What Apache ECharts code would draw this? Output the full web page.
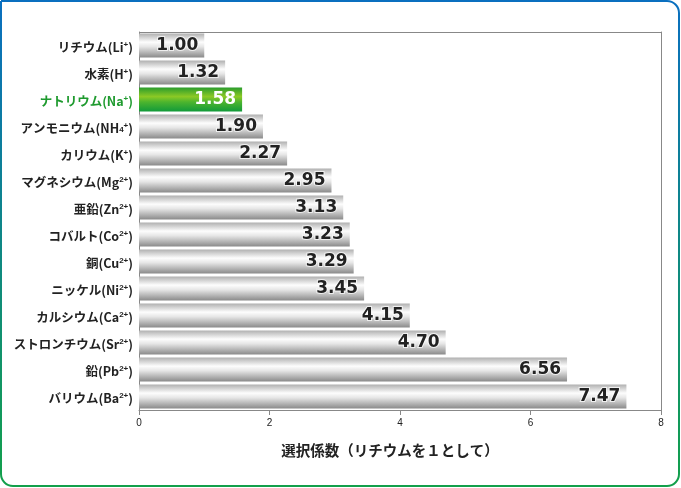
<!DOCTYPE html>
<html><head><meta charset="utf-8">
<script src="https://cdn.jsdelivr.net/npm/echarts@6/dist/echarts.min.js"></script>
<style>html,body{margin:0;padding:0;background:#fff}#c{width:681px;height:488px}</style>
</head><body><div id="c"></div>
<script>
var names = ['リチウム','水素','ナトリウム','アンモニウム','カリウム','マグネシウム','亜鉛','コバルト','銅','ニッケル','カルシウム','ストロンチウム','鉛','バリウム'];
var ions = ['Li','H','Na','NH','K','Mg','Zn','Co','Cu','Ni','Ca','Sr','Pb','Ba'];
var subs = ['','','','4','','','','','','','','','',''];
var charges = ['+','+','+','+','+','2+','2+','2+','2+','2+','2+','2+','2+','2+'];
var values = [1.00,1.32,1.58,1.90,2.27,2.95,3.13,3.23,3.29,3.45,4.15,4.70,6.56,7.47];
var highlight = 2;
var xTicks = [0,2,4,6,8];
var axisTitle = '選択係数（リチウムを１として）';

var cats = names.map(function(n,i){return String(i);});
var chart = echarts.init(document.getElementById('c'));
var grayGrad = new echarts.graphic.LinearGradient(0,0,0,1,[
  {offset:0,color:'#b0b0b0'},{offset:0.36,color:'#fdfdfd'},{offset:0.55,color:'#e6e6e6'},{offset:1,color:'#8a8a8a'}]);
var greenGrad = new echarts.graphic.LinearGradient(0,0,0,1,[
  {offset:0,color:'#2a9c2c'},{offset:0.38,color:'#8cc925'},{offset:0.6,color:'#4db52e'},{offset:1,color:'#119a3a'}]);
var font = '"Noto Sans CJK JP", sans-serif';
var latin = 'Arial, "Liberation Sans", sans-serif';
var rich = {
  n:{fontFamily:font,fontWeight:'bold',fontSize:12.5,color:'#222',lineHeight:16,verticalAlign:'bottom'},
  s:{fontFamily:latin,fontWeight:'bold',fontSize:8,color:'#222',lineHeight:10,verticalAlign:'top',padding:[3,0,0,0]},
  b:{fontFamily:latin,fontWeight:'bold',fontSize:8,color:'#222',lineHeight:10,verticalAlign:'bottom',padding:[0,0,1,0]},
  gn:{fontFamily:font,fontWeight:'bold',fontSize:12.5,color:'#1e9a2e',lineHeight:16,verticalAlign:'bottom'},
  gs:{fontFamily:latin,fontWeight:'bold',fontSize:8,color:'#1e9a2e',lineHeight:10,verticalAlign:'top',padding:[3,0,0,0]}
};
chart.setOption({
  animation:false,
  backgroundColor:'#fff',
  graphic:[{type:'rect',shape:{x:1,y:1,width:678,height:485,r:[0,12,12,12]},
    style:{fill:'none',lineWidth:2,stroke:new echarts.graphic.LinearGradient(0,0,0,1,[{offset:0,color:'#0a6fc0'},{offset:1,color:'#13a04a'}])},z:-1},
    {type:'line',shape:{x1:139,y1:32.5,x2:661,y2:32.5},style:{stroke:'#888',lineWidth:1},z:10}],
  grid:{left:139,right:20,top:32,bottom:78},
  xAxis:{type:'value',min:0,max:8,interval:2,
    axisLine:{show:true,lineStyle:{color:'#888',width:1}},
    axisTick:{show:true,length:5,lineStyle:{color:'#888'}},
    splitLine:{show:false},
    axisLabel:{color:'#222',fontSize:10,fontFamily:latin,margin:8,
      formatter:function(v){return xTicks.indexOf(v)>=0?String(v):'';}},
    name:axisTitle,nameLocation:'middle',nameGap:33,
    nameTextStyle:{fontFamily:font,fontWeight:'bold',fontSize:14.5,color:'#222',padding:[0,20,0,0]}
  },
  yAxis:[{type:'category',data:cats,inverse:true,
    axisLine:{show:true,lineStyle:{color:'#888'}},axisTick:{show:false},
    axisLabel:{margin:6,rich:rich,formatter:function(v){
      var i=+v; var g=i===highlight; var n=g?'gn':'n', s=g?'gs':'s';
      var str='{'+n+'|'+names[i]+'('+ions[i]+'}';
      if(subs[i]) str+='{b|'+subs[i]+'}';
      str+='{'+s+'|'+charges[i]+'}{'+n+'|)}';
      return str;}}
  },{type:'category',data:cats,inverse:true,position:'right',
    axisLine:{show:true,lineStyle:{color:'#888'}},axisTick:{show:false},axisLabel:{show:false}}],
  series:[{type:'bar',yAxisIndex:0,barCategoryGap:'11%',
    data:values.map(function(v,i){return {value:v,itemStyle:{color:i===highlight?greenGrad:grayGrad},
      label:{color:i===highlight?'#fff':'#222',textBorderColor:i===highlight?'rgba(0,0,0,0)':'rgba(255,255,255,0.7)',textBorderWidth:i===highlight?0:2}};}),
    label:{show:true,position:'insideRight',distance:6,fontFamily:'"DejaVu Sans", sans-serif',fontWeight:'bold',fontSize:17,
      formatter:function(p){return p.value.toFixed(2);}}
  }]
});
</script></body></html>
